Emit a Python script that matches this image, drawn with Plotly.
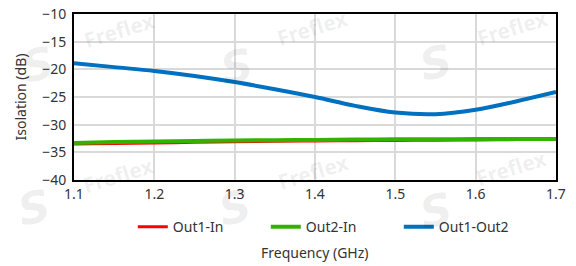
import plotly.graph_objects as go

freq = [1.1, 1.15, 1.2, 1.25, 1.3, 1.35, 1.4, 1.45, 1.5, 1.55, 1.6, 1.65, 1.7]
out1_in = [-33.5, -33.4, -33.3, -33.2, -33.1, -33.0, -32.95, -32.9, -32.85, -32.8, -32.75, -32.7, -32.7]
out2_in = [-33.3, -33.15, -33.05, -32.95, -32.85, -32.8, -32.75, -32.7, -32.65, -32.65, -32.6, -32.6, -32.6]
out1_out2 = [-18.9, -19.6, -20.3, -21.2, -22.3, -23.6, -25.0, -26.6, -27.8, -28.1, -27.3, -25.8, -24.1]

# watermark tile anchors (paper coords)
wm_text_x = [0.095, 0.494, 0.909, 0.093, 0.496, 0.907]
wm_text_y = [0.904, 0.916, 0.916, 0.030, 0.048, 0.072]
wm_logo_x = [-0.075, 0.338, 0.751, -0.083, 0.334, 0.751]
wm_logo_y = [0.693, 0.681, 0.705, -0.163, -0.163, -0.181]

fig = go.Figure()
fig.add_trace(go.Scatter(x=freq, y=out1_in, mode="lines", name="Out1-In",
                         line=dict(color="#ff0000", width=3, shape="spline")))
fig.add_trace(go.Scatter(x=freq, y=out2_in, mode="lines", name="Out2-In",
                         line=dict(color="#33b300", width=4, shape="spline")))
fig.add_trace(go.Scatter(x=freq, y=out1_out2, mode="lines", name="Out1-Out2",
                         line=dict(color="#0070c0", width=4, shape="spline")))

font = dict(family="Noto Sans", size=14, color="#333333")
wm_color = "rgba(0,0,0,0.075)"
annotations = []
for tx, ty in zip(wm_text_x, wm_text_y):
    annotations.append(dict(text="<b>Freflex</b>", xref="paper", yref="paper", x=tx, y=ty,
                            xanchor="center", yanchor="middle",
                            showarrow=False, textangle=-17,
                            font=dict(family="Noto Sans", size=21, color=wm_color)))
for lx, ly in zip(wm_logo_x, wm_logo_y):
    annotations.append(dict(text="<b><i>S</i></b>", xref="paper", yref="paper", x=lx, y=ly,
                            xanchor="center", yanchor="middle",
                            showarrow=False, textangle=-12,
                            font=dict(family="DejaVu Sans", size=44, color="rgba(0,0,0,0.065)")))
annotations.append(dict(text="Frequency (GHz)", xref="paper", yref="paper",
                        x=0.5, y=-0.367, xanchor="center", yanchor="top",
                        showarrow=False, font=font))

fig.update_layout(
    width=576, height=266,
    margin=dict(l=74, r=20, t=14, b=86, autoexpand=False),
    paper_bgcolor="white", plot_bgcolor="white",
    font=font,
    showlegend=True,
    legend=dict(orientation="h", x=0.122, xanchor="left", y=-0.187, yanchor="top",
                font=font, tracegroupgap=0, entrywidth=88, entrywidthmode="pixels"),
    xaxis=dict(range=[1.1, 1.7], dtick=0.1, tick0=1.1, tickformat=".1f",
               showgrid=True, gridcolor="#d9d9d9", gridwidth=2,
               showline=True, linecolor="black", linewidth=2, mirror=True,
               ticks="", zeroline=False, automargin=False),
    yaxis=dict(range=[-40, -10], dtick=5, showgrid=True, gridcolor="#d9d9d9", gridwidth=2,
               showline=True, linecolor="black", linewidth=2, mirror=True,
               ticks="", zeroline=False, automargin=False, ticklabelstandoff=3,
               title=dict(text="Isolation (dB)", font=font, standoff=12)),
    annotations=annotations,
)

fig.write_html("out.html", config={"displayModeBar": False},
               post_script="document.body.style.margin='0';")
